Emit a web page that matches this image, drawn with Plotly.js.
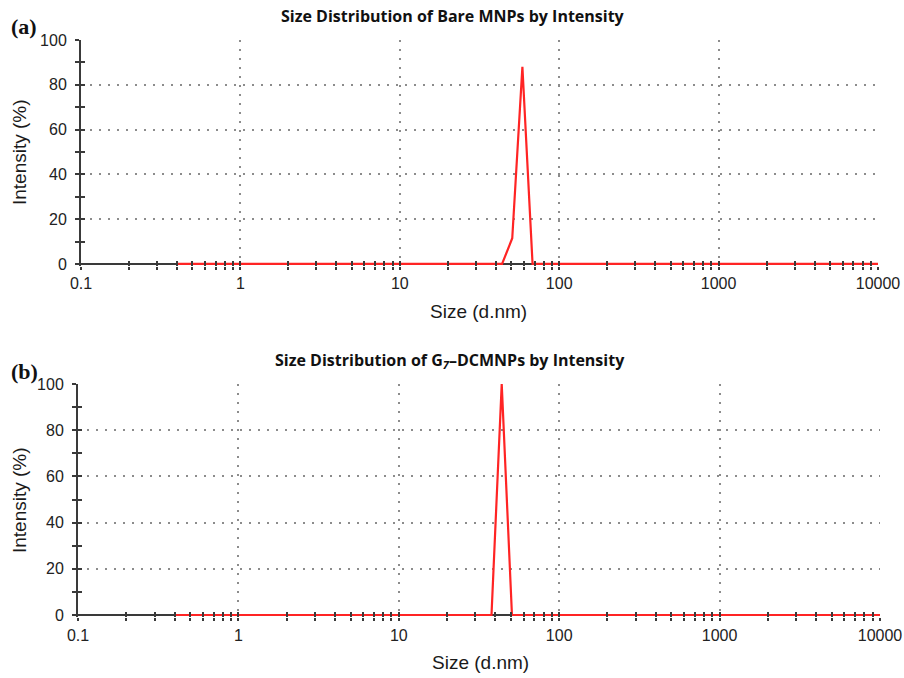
<!DOCTYPE html>
<html>
<head>
<meta charset="utf-8">
<script src="https://cdn.plot.ly/plotly-3.0.1.min.js"></script>
<style>html,body{margin:0;padding:0;background:#fff;}#chart{width:904px;height:678px;}</style>
</head>
<body>
<div id="chart"></div>
<script>
// Size bins (d.nm)
var sizeBins = [0.4, 0.4632, 0.5365, 0.6213, 0.7195, 0.8332, 0.9650, 1.117, 1.294, 1.499,
  1.736, 2.010, 2.328, 2.696, 3.122, 3.615, 4.187, 4.849, 5.615, 6.503,
  7.531, 8.721, 10.10, 11.70, 13.54, 15.69, 18.17, 21.04, 24.36, 28.21,
  32.67, 37.84, 43.82, 50.75, 58.77, 68.06, 78.82, 91.28, 105.7, 122.4,
  141.8, 164.2, 190.1, 220.2, 255.0, 295.3, 342.0, 396.1, 458.7, 531.2,
  615.1, 712.4, 825.0, 955.4, 1106, 1281, 1484, 1718, 1990, 2305,
  2669, 3091, 3580, 4145, 4801, 5560, 6439, 7456, 8635, 10000];

// (a) Bare MNPs intensity (%)
var intensityBare = [0, 0, 0, 0, 0, 0, 0, 0, 0, 0,
  0, 0, 0, 0, 0, 0, 0, 0, 0, 0,
  0, 0, 0, 0, 0, 0, 0, 0, 0, 0,
  0, 0, 0, 11.5, 88, 0, 0, 0, 0, 0,
  0, 0, 0, 0, 0, 0, 0, 0, 0, 0,
  0, 0, 0, 0, 0, 0, 0, 0, 0, 0,
  0, 0, 0, 0, 0, 0, 0, 0, 0, 0];

// (b) G7-DCMNPs intensity (%)
var intensityG7 = [0, 0, 0, 0, 0, 0, 0, 0, 0, 0,
  0, 0, 0, 0, 0, 0, 0, 0, 0, 0,
  0, 0, 0, 0, 0, 0, 0, 0, 0, 0,
  0, 0, 100, 0, 0, 0, 0, 0, 0, 0,
  0, 0, 0, 0, 0, 0, 0, 0, 0, 0,
  0, 0, 0, 0, 0, 0, 0, 0, 0, 0,
  0, 0, 0, 0, 0, 0, 0, 0, 0, 0];

var xTickVals = [0.1, 1, 10, 100, 1000, 10000];
var xTickText = ['0.1', '1', '10', '100', '1000', '10000'];

var panelTitles = ['Size Distribution of Bare MNPs by Intensity',
                   'Size Distribution of G<sub><i>7</i></sub>–DCMNPs by Intensity'];
var panelLabels = ['(a)', '(b)'];
var xTitle = 'Size (d.nm)';
var yTitle = 'Intensity (%)';

var H = 678, W = 904;
var axisCol = '#3a3a3a';
var gridCol = '#8c8c8c';
var lineRed = '#ff2424';

function fy(px){ return 1 - px / H; }
function fx(px){ return px / W; }

var traces = [
  {x: sizeBins, y: intensityBare, xaxis: 'x', yaxis: 'y', type: 'scatter', mode: 'lines',
   line: {color: lineRed, width: 2.2}, hoverinfo: 'skip', showlegend: false},
  {x: sizeBins, y: intensityG7, xaxis: 'x2', yaxis: 'y2', type: 'scatter', mode: 'lines',
   line: {color: lineRed, width: 2.2}, hoverinfo: 'skip', showlegend: false},
  // empty helpers so the overlay tick axes get their own subplots
  {x: [], y: [], xaxis: 'x3', yaxis: 'y', type: 'scatter', mode: 'lines', showlegend: false, hoverinfo: 'skip'},
  {x: [], y: [], xaxis: 'x', yaxis: 'y3', type: 'scatter', mode: 'lines', showlegend: false, hoverinfo: 'skip'},
  {x: [], y: [], xaxis: 'x4', yaxis: 'y2', type: 'scatter', mode: 'lines', showlegend: false, hoverinfo: 'skip'},
  {x: [], y: [], xaxis: 'x2', yaxis: 'y4', type: 'scatter', mode: 'lines', showlegend: false, hoverinfo: 'skip'}
];

function mainX(domain, anchor){
  return {type: 'log', range: [-1, 4], domain: domain, anchor: anchor,
    tickmode: 'array', tickvals: xTickVals, ticktext: xTickText,
    ticks: 'outside', ticklen: 3, tickwidth: 2, tickcolor: axisCol,
    minor: {ticks: 'outside', ticklen: 3, tickwidth: 2, tickcolor: axisCol, dtick: 'D1', showgrid: false},
    showline: false, zeroline: false,
    showgrid: true, gridcolor: gridCol, gridwidth: 2, griddash: '2px,7px',
    tickfont: {family: 'Liberation Sans, Arial, sans-serif', size: 16, color: '#222'},
    ticklabelstandoff: 0};
}
function overX(over, anchor){
  return {type: 'log', range: [-1, 4], overlaying: over, anchor: anchor,
    tickmode: 'array', tickvals: xTickVals, ticktext: xTickText,
    ticks: 'inside', ticklen: 5, tickwidth: 2, tickcolor: axisCol,
    minor: {ticks: 'inside', ticklen: 5, tickwidth: 2, tickcolor: axisCol, dtick: 'D1', showgrid: false},
    showticklabels: false, showline: false, zeroline: false, showgrid: false};
}
function mainY(domain, anchor){
  return {range: [-1, 100], domain: domain, anchor: anchor,
    tickmode: 'linear', tick0: 0, dtick: 20,
    ticks: 'outside', ticklen: 4, tickwidth: 2, tickcolor: axisCol,
    minor: {ticks: 'outside', ticklen: 4, tickwidth: 2, tickcolor: axisCol, dtick: 10, showgrid: false},
    showline: true, linecolor: axisCol, linewidth: 2,
    zeroline: true, zerolinecolor: axisCol, zerolinewidth: 2,
    showgrid: true, gridcolor: gridCol, gridwidth: 2, griddash: '2px,7px',
    tickfont: {family: 'Liberation Sans, Arial, sans-serif', size: 16, color: '#222'},
    ticklabelstandoff: 5};
}
function overY(over, anchor){
  return {range: [-1, 100], overlaying: over, anchor: anchor,
    tickmode: 'linear', tick0: 0, dtick: 20,
    ticks: 'inside', ticklen: 4, tickwidth: 2, tickcolor: axisCol,
    minor: {ticks: 'inside', ticklen: 4, tickwidth: 2, tickcolor: axisCol, dtick: 10, showgrid: false},
    showticklabels: false, showline: false, zeroline: false, showgrid: false};
}

var titleFont = {family: 'Open Sans, Lato, sans-serif', size: 16, color: '#111'};
var axTitleFont = {family: 'Liberation Sans, Arial, sans-serif', size: 19, color: '#1a1a1a'};
var labelFont = {family: 'Liberation Serif, Times New Roman, serif', size: 22, color: '#111'};

var layout = {
  width: W, height: H,
  margin: {l: 0, r: 0, t: 0, b: 0},
  paper_bgcolor: '#fff', plot_bgcolor: '#fff',
  showlegend: false,
  xaxis: mainX([fx(81), fx(878)], 'y'),
  yaxis: mainY([fy(266.2), fy(40)], 'x'),
  xaxis3: overX('x', 'y'),
  yaxis3: overY('y', 'x'),
  xaxis2: mainX([fx(78), fx(880)], 'y2'),
  yaxis2: mainY([fy(617.3), fy(384)], 'x2'),
  xaxis4: overX('x2', 'y2'),
  yaxis4: overY('y2', 'x2'),
  annotations: [
    {text: '<b>' + panelLabels[0] + '</b>', x: fx(24), y: fy(27), xref: 'paper', yref: 'paper', showarrow: false, font: labelFont, xanchor: 'center', yanchor: 'middle'},
    {text: '<b>' + panelLabels[1] + '</b>', x: fx(24), y: fy(371), xref: 'paper', yref: 'paper', showarrow: false, font: labelFont, xanchor: 'center', yanchor: 'middle'},
    {text: '<b>' + panelTitles[0] + '</b>', x: fx(453), y: fy(16), xref: 'paper', yref: 'paper', showarrow: false, font: titleFont, xanchor: 'center', yanchor: 'middle'},
    {text: '<b>' + panelTitles[1] + '</b>', x: fx(450), y: fy(360), xref: 'paper', yref: 'paper', showarrow: false, font: titleFont, xanchor: 'center', yanchor: 'middle'},
    {text: xTitle, x: fx(478), y: fy(311), xref: 'paper', yref: 'paper', showarrow: false, font: axTitleFont, xanchor: 'center', yanchor: 'middle'},
    {text: xTitle, x: fx(480), y: fy(662), xref: 'paper', yref: 'paper', showarrow: false, font: axTitleFont, xanchor: 'center', yanchor: 'middle'},
    {text: yTitle, x: fx(19), y: fy(152), xref: 'paper', yref: 'paper', showarrow: false, font: axTitleFont, textangle: -90, xanchor: 'center', yanchor: 'middle'},
    {text: yTitle, x: fx(19), y: fy(500), xref: 'paper', yref: 'paper', showarrow: false, font: axTitleFont, textangle: -90, xanchor: 'center', yanchor: 'middle'}
  ]
};

Plotly.newPlot('chart', traces, layout, {staticPlot: true, displayModeBar: false});
</script>
</body>
</html>
